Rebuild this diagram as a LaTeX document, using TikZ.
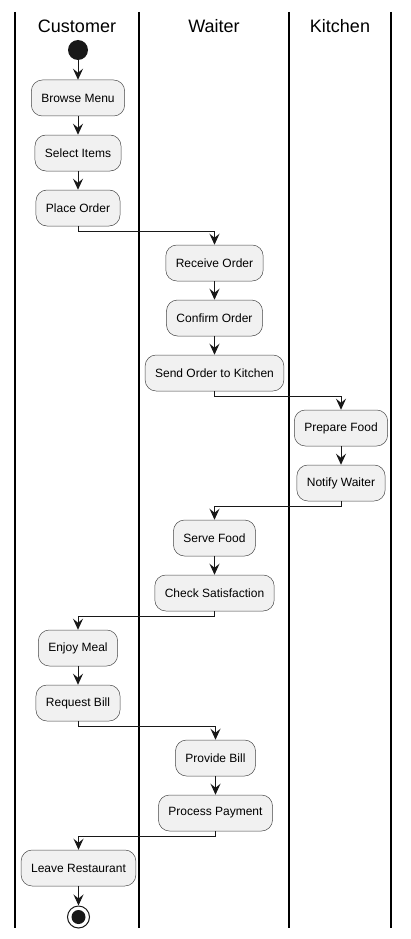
\documentclass[tikz,border=0pt]{standalone}
\usepackage{fontspec}
\setmainfont{Liberation Sans}
\usepackage{xcolor}
\usetikzlibrary{arrows.meta}
\definecolor{actfill}{HTML}{F1F1F1}
\definecolor{actline}{HTML}{181818}
\begin{document}
\begin{tikzpicture}[x=1pt,y=1pt,
  act/.style={draw=actline!80,line width=0.5pt,fill=actfill,rounded corners=11pt,
    minimum height=36pt,inner xsep=10pt,font=\fontsize{12}{14}\selectfont},
  lane/.style={font=\fontsize{18}{21}\selectfont},
  flow/.style={line width=1pt,actline,-{Stealth[length=11pt,width=10pt,inset=4pt]}}]
\useasboundingbox (0,0) rectangle (410,-939);
\draw[line width=1.2pt] (15,-12)--(15,-928);
\draw[line width=1.2pt] (139,-12)--(139,-928);
\draw[line width=1.2pt] (289,-12)--(289,-928);
\draw[line width=1.2pt] (391,-12)--(391,-928);
\node[lane] at (77,-26){Customer};
\node[lane] at (214,-26){Waiter};
\node[lane] at (340,-26){Kitchen};
\node[circle,fill=actline,minimum size=20pt,inner sep=0pt] (start) at (78,-50){};
\node[act] (browse) at (78,-98){Browse Menu};
\node[act] (select) at (78,-153){Select Items};
\node[act] (place) at (78,-208){Place Order};
\node[act] (receive) at (214.5,-263){Receive Order};
\node[act] (confirm) at (214.5,-318){Confirm Order};
\node[act] (send) at (214.5,-373){Send Order to Kitchen};
\node[act] (prepare) at (341,-428){Prepare Food};
\node[act] (notify) at (341,-483){Notify Waiter};
\node[act] (serve) at (214.5,-538){Serve Food};
\node[act] (check) at (214.5,-593){Check Satisfaction};
\node[act] (enjoy) at (78,-648){Enjoy Meal};
\node[act] (request) at (78,-703){Request Bill};
\node[act] (provide) at (215.5,-758){Provide Bill};
\node[act] (payment) at (215.5,-813){Process Payment};
\node[act] (leave) at (78.5,-868){Leave Restaurant};
\node[circle,draw=actline,line width=1pt,fill=white,minimum size=22pt,inner sep=0pt] (stop) at (78.5,-917){};
\node[circle,fill=actline,minimum size=14pt,inner sep=0pt] at (stop){};
\draw[flow] (start)--(browse);
\draw[flow] (browse)--(select);
\draw[flow] (select)--(place);
\draw[flow] (place.south)--++(0,-5)-|(receive.north);
\draw[flow] (receive)--(confirm);
\draw[flow] (confirm)--(send);
\draw[flow] (send.south)--++(0,-5)-|(prepare.north);
\draw[flow] (prepare)--(notify);
\draw[flow] (notify.south)--++(0,-5)-|(serve.north);
\draw[flow] (serve)--(check);
\draw[flow] (check.south)--++(0,-5)-|(enjoy.north);
\draw[flow] (enjoy)--(request);
\draw[flow] (request.south)--++(0,-5)-|(provide.north);
\draw[flow] (provide)--(payment);
\draw[flow] (payment.south)--++(0,-5)-|(leave.north);
\draw[flow] (leave)--(stop);
\end{tikzpicture}
\end{document}
